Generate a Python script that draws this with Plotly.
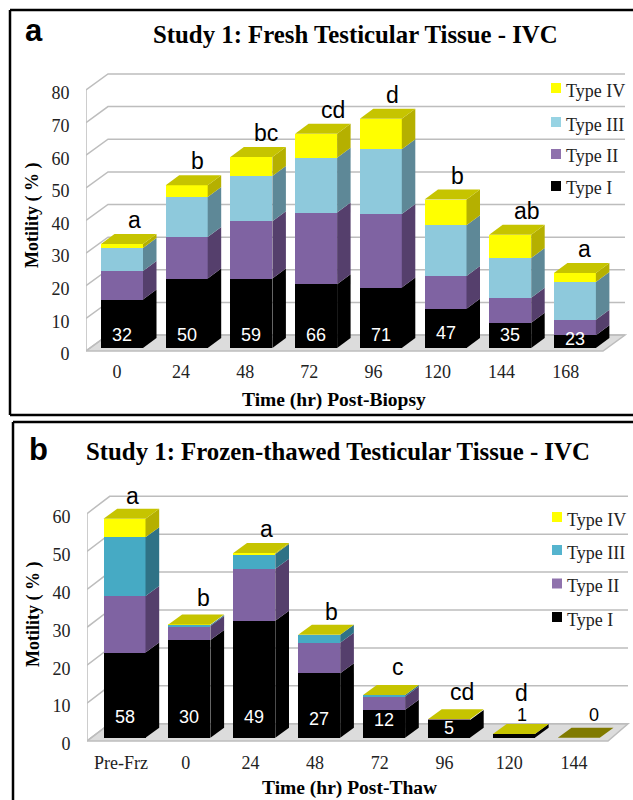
import plotly.graph_objects as go

SERIES = ["Type I", "Type II", "Type III", "Type IV"]

# ---------- Panel a data ----------
a_cats = ["0", "24", "48", "72", "96", "120", "144", "168"]
a_type1 = [14.9, 21.4, 21.4, 19.6, 18.6, 12.1, 7.8, 3.9]
a_type2 = [8.8, 12.8, 17.6, 22.1, 22.7, 10.1, 7.7, 4.8]
a_type3 = [7.1, 12.3, 14.0, 16.9, 19.9, 15.6, 12.2, 11.6]
a_type4 = [1.2, 3.6, 5.8, 7.4, 9.4, 7.9, 7.2, 2.8]
a_counts = ["32", "50", "59", "66", "71", "47", "35", "23"]
a_letters = ["a", "b", "bc", "cd", "d", "b", "ab", "a"]
a_yticks = [0, 10, 20, 30, 40, 50, 60, 70, 80]

# ---------- Panel b data ----------
b_cats = ["Pre-Frz", "0", "24", "48", "72", "96", "120", "144"]
b_type1 = [22.6, 25.9, 31.0, 17.1, 7.4, 4.7, 1.0, 0]
b_type2 = [15.0, 3.7, 13.8, 8.1, 3.5, 0.2, 0, 0]
b_type3 = [15.6, 0.3, 3.9, 2.1, 0.4, 0, 0, 0]
b_type4 = [4.9, 0.1, 0.3, 0.0, 0.0, 0.0, 0, 0]
b_counts = ["58", "30", "49", "27", "12", "5", "1", "0"]
b_letters = ["a", "b", "a", "b", "c", "cd", "d", ""]
b_yticks = [0, 10, 20, 30, 40, 50, 60]

W, H = 633, 800
SERIF = "Liberation Serif"
SANS = "Liberation Sans"
GRID = "#bdbdbd"
TOP = "#c6c400"
ZERO_TOP = "#807a00"


def px_x(p):
    return p / W


def px_y(p):
    return 1 - p / H


STYLE_A = dict(
    front=["#000000", "#7f63a2", "#8ec9dc", "#ffff00"],
    side=["#000000", "#553f6c", "#5e8897", "#b5b000"],
    legend=["#000000", "#8f72ad", "#97d3e3", "#ffff00"],
)
STYLE_B = dict(
    front=["#000000", "#7f63a2", "#46aac4", "#ffff00"],
    side=["#000000", "#553f6c", "#2f7286", "#b5b000"],
    legend=["#000000", "#8f72ad", "#55b4ce", "#ffff00"],
)

GEOM_A = dict(
    left=86, right=628, top=60, bottom=354, wall0=351, wall_scale=3.2625,
    back_dx=22, back_dy=16, floor_right=603, back_right=625,
    bar0=122, spacing=64.7, bar_w=42, base=348, bar_scale=3.247,
    dx=13.5, dy=10, tick0=117, tick_step=64.1,
)
GEOM_B = dict(
    left=87, right=631, top=475, bottom=745, wall0=741, wall_scale=3.79,
    back_dx=22.7, back_dy=17.3, floor_right=608, back_right=628,
    bar0=124.5, spacing=64.9, bar_w=42, base=737.7, bar_scale=3.77,
    dx=13.7, dy=10, tick0=121, tick_step=64.7,
)

fig = go.Figure()
shapes, annotations = [], []
layout_axes = {}


def add_text(text, x, y, size, family=SERIF, color="#000000", bold=False, angle=0):
    annotations.append(dict(
        text=f"<b>{text}</b>" if bold else text,
        x=px_x(x), y=px_y(y), xref="paper", yref="paper",
        xanchor="center", yanchor="middle", showarrow=False, textangle=angle,
        font=dict(family=family, size=size, color=color),
    ))


def panel(cats, values, counts, letters, yticks, g, style, ax, count_dy, letter_dy, letter_dx, count_dx):
    xa, ya, yb = ax
    xname = "xaxis" + xa[1:]
    yname = "yaxis" + ya[1:]
    y2name = "yaxis" + yb[1:]
    s = g["spacing"]
    to_x = lambda p: (p - g["bar0"]) / s
    bw = g["bar_w"] / s
    ddx = g["dx"] / s
    ddy = g["dy"] / g["bar_scale"]
    xs = list(range(len(cats)))

    layout_axes[xname] = dict(
        domain=[px_x(g["left"]), px_x(g["right"])], anchor=ya, automargin=False,
        range=[to_x(g["left"]), to_x(g["right"])],
        tickmode="array",
        tickvals=[to_x(g["tick0"] + g["tick_step"] * i) for i in xs],
        ticktext=cats, ticks="outside", ticklen=1, tickcolor="rgba(0,0,0,0)",
        showgrid=False, zeroline=False, showline=False,
        tickfont=dict(family=SERIF, size=18, color="#222222"),
    )
    layout_axes[yname] = dict(
        domain=[px_y(g["bottom"]), px_y(g["top"])], anchor=xa, automargin=False,
        range=[(g["wall0"] - g["bottom"]) / g["wall_scale"], (g["wall0"] - g["top"]) / g["wall_scale"]],
        tickmode="array", tickvals=yticks, ticktext=[str(t) for t in yticks],
        ticks="outside", ticklen=12, tickcolor="rgba(0,0,0,0)", ticklabelshift=3,
        showgrid=False, zeroline=False, showline=False,
        tickfont=dict(family=SERIF, size=18, color="#222222"),
    )
    layout_axes[y2name] = dict(
        overlaying=ya, anchor=xa, visible=False, automargin=False,
        domain=layout_axes[yname]["domain"],
        range=[(g["base"] - g["bottom"]) / g["bar_scale"], (g["base"] - g["top"]) / g["bar_scale"]],
    )

    # Wall / floor geometry, in wall axis units
    wx = lambda p: to_x(p)
    bdy = g["back_dy"] / g["wall_scale"]
    xl, xb = wx(g["left"]), wx(g["left"] + g["back_dx"])
    xfr, xbr = wx(g["floor_right"]), wx(g["back_right"])
    shapes.append(dict(
        type="path", layer="below", xref=xa, yref=ya,
        path=f"M{xl},0 L{xfr},0 L{xbr},{bdy} L{xb},{bdy} Z",
        fillcolor="#dcdcdc", line=dict(color=GRID, width=1.5),
    ))
    for t in yticks:
        shapes.append(dict(
            type="path", layer="below", xref=xa, yref=ya,
            path=f"M{xl},{t} L{xb},{t + bdy} L{xbr},{t + bdy}",
            line=dict(color=GRID, width=1.5),
        ))
    shapes.append(dict(
        type="line", layer="below", xref=xa, yref=ya,
        x0=xl, x1=xl, y0=0, y1=yticks[-1], line=dict(color=GRID, width=1.5),
    ))

    # Front faces
    for k, name in enumerate(SERIES):
        fig.add_trace(go.Bar(
            x=xs, y=values[k], width=bw, name=name, xaxis=xa, yaxis=yb,
            marker=dict(color=style["front"][k], line=dict(width=0)),
            showlegend=False, hoverinfo="skip",
        ))

    # Side faces and tops, derived from the stacked values
    for i in xs:
        right = i + bw / 2
        left = i - bw / 2
        cum = 0
        for k in range(4):
            v = values[k][i]
            if v > 0:
                fig.add_trace(go.Scatter(
                    x=[right, right + ddx, right + ddx, right, right],
                    y=[cum, cum + ddy, cum + v + ddy, cum + v, cum],
                    mode="lines", line=dict(width=0), fill="toself",
                    fillcolor=style["side"][k], xaxis=xa, yaxis=yb,
                    showlegend=False, hoverinfo="skip",
                ))
            cum += v
        fig.add_trace(go.Scatter(
            x=[left, right, right + ddx, left + ddx, left],
            y=[cum, cum, cum + ddy, cum + ddy, cum],
            mode="lines", line=dict(width=0), fill="toself",
            fillcolor=TOP if cum > 0 else ZERO_TOP, xaxis=xa, yaxis=yb,
            showlegend=False, hoverinfo="skip",
        ))
        # Count near the base
        annotations.append(dict(
            text=counts[i], x=i, y=0, xref=xa, yref=yb, showarrow=False,
            xanchor="center", yanchor="middle", xshift=count_dx[i], yshift=count_dy[i],
            font=dict(family=SANS, size=18, color="#ffffff" if cum >= 2 else "#000000"),
        ))
        # Significance letter above the bar
        if letters[i]:
            annotations.append(dict(
                text=letters[i], x=i, y=cum + ddy, xref=xa, yref=yb, showarrow=False,
                xanchor="center", yanchor="middle", xshift=letter_dx[i], yshift=letter_dy[i],
                font=dict(family=SANS, size=23, color="#000000"),
            ))


def legend(x_sw, ys, style, x_text):
    for k, y in enumerate(ys):
        shapes.append(dict(
            type="rect", xref="paper", yref="paper",
            x0=px_x(x_sw - 5), x1=px_x(x_sw + 5), y0=px_y(y + 5), y1=px_y(y - 5),
            fillcolor=style["legend"][k], line=dict(width=0),
        ))
        annotations.append(dict(
            text=SERIES[k], x=px_x(x_text), y=px_y(y + 2.5), xref="paper", yref="paper",
            xanchor="left", yanchor="middle", showarrow=False,
            font=dict(family=SERIF, size=18, color="#222222"),
        ))


panel(a_cats, [a_type1, a_type2, a_type3, a_type4], a_counts, a_letters, a_yticks, GEOM_A, STYLE_A,
      ("x", "y", "y2"),
      count_dy=[13, 13, 13, 13, 13, 15, 13, 9],
      letter_dy=[14] * 8,
      letter_dx=[12, 11, 15, 17, 12, 12, 17, 10],
      count_dx=[0] * 8)
panel(b_cats, [b_type1, b_type2, b_type3, b_type4], b_counts, b_letters, b_yticks, GEOM_B, STYLE_B,
      ("x2", "y3", "y4"),
      count_dy=[21, 21, 21, 19, 18, 10, 23, 23],
      letter_dy=[13, 17, 14, 13, 18, 17, 31, 0],
      letter_dx=[8, 14, 12, 12, 14, 13, 8, 0],
      count_dx=[0, 0, 0, 0, 0, 0, 8, 15])

legend(556, [186, 154, 122, 88], STYLE_A, 563.5)
legend(557, [617, 583.5, 550, 517], STYLE_B, 564.5)

# Titles and axis titles
add_text("Study 1: Fresh Testicular Tissue - IVC", 355.5, 35, 24.8, bold=True)
add_text("Study 1: Frozen-thawed Testicular Tissue - IVC", 337.5, 452, 24.8, bold=True)
add_text("a", 34, 31, 31, family=SANS, bold=True)
add_text("b", 38, 449, 31, family=SANS, bold=True)
add_text("Motility ( % )", 32, 216, 18, bold=True, angle=-90)
add_text("Motility ( % )", 33, 615, 18, bold=True, angle=-90)
add_text("Time (hr) Post-Biopsy", 334, 399.5, 19.5, bold=True)
add_text("Time (hr) Post-Thaw", 349, 788, 19.5, bold=True)

# Panel frames
frame = dict(color="#000000", width=2.5)
for x0, y0, x1, y1 in [(10, 10, 633, 10), (10, 10, 10, 415), (10, 415, 633, 415),
                       (13, 422, 633, 422), (13, 422, 13, 800)]:
    shapes.append(dict(type="line", xref="paper", yref="paper", line=frame,
                       x0=px_x(x0), x1=px_x(x1), y0=px_y(y0), y1=px_y(y1)))

fig.update_layout(
    template="none",
    width=W, height=H, margin=dict(l=0, r=0, t=0, b=0, pad=0),
    paper_bgcolor="#ffffff", plot_bgcolor="rgba(0,0,0,0)",
    barmode="stack", showlegend=False, bargap=0,
    shapes=shapes, annotations=annotations, **layout_axes,
)
fig.write_html("out.html", config={"displayModeBar": False},
               post_script="document.body.style.margin='0';")
